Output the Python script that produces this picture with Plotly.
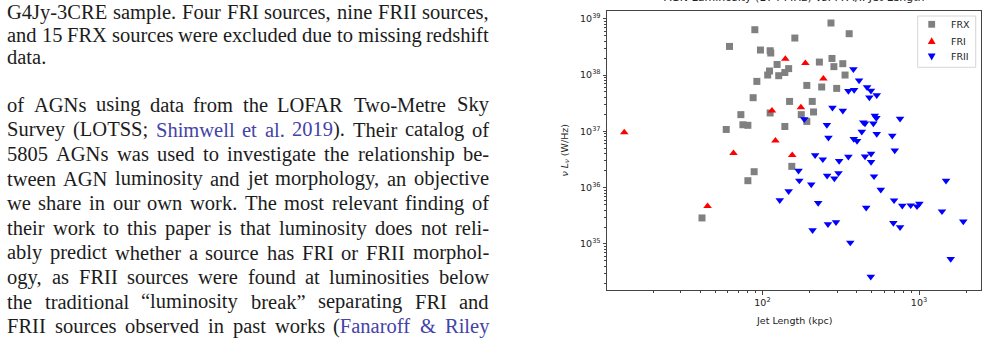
import plotly.graph_objects as go

# ---------------- data ----------------
frx_len = [274, 89.4, 358, 161, 61.6, 97.1, 112, 113, 278, 231, 326, 124, 286, 147, 111, 139,
           337, 108, 127, 92.1, 192, 239, 298, 87.2, 149, 208, 72.8, 112, 212, 177, 192, 75.0,
           80.7, 139, 58.7, 88.5, 80.7, 154, 41.1]
frx_lum = [8.39e38, 6.38e38, 5.42e38, 4.54e38, 3.22e38, 2.78e38, 2.70e38, 2.46e38, 1.97e38,
           1.70e38, 1.59e38, 1.54e38, 1.41e38, 1.30e38, 1.18e38, 1.11e38, 1.00e38, 1.00e38,
           9.73e37, 7.71e37, 6.54e37, 6.13e37, 5.79e37, 3.96e37, 3.40e37, 3.40e37, 1.98e37,
           2.12e37, 2.21e37, 1.98e37, 1.50e37, 1.31e37, 1.28e37, 1.22e37, 1.08e37, 1.92e36,
           1.33e36, 2.39e36, 2.90e35]

fri_len = [140, 188, 245, 115, 176, 121, 65.3, 155, 13.1, 44.6]
fri_lum = [1.93e38, 1.62e38, 8.61e37, 2.33e37, 2.66e37, 6.83e36, 4.10e36, 3.78e36, 9.59e36, 4.69e35]

frii_len = [381, 414, 466, 354, 385, 493, 482, 537, 280, 326,
            185, 258, 264, 441, 452, 522, 534, 511, 757, 431,
            383, 402, 537, 675, 700, 217, 243, 309, 354, 452,
            494, 494, 170, 172, 205, 259, 306, 288, 516, 147,
            129, 227, 460, 262, 295, 209, 364, 492, 570, 693,
            782, 885, 971, 1005, 1488, 1402, 1918, 686, 757, 1594]
frii_lum = [1.27e38, 8.0e37, 6.08e37, 5.21e37, 5.45e37, 5.27e37, 4.01e37, 4.39e37, 2.63e37, 2.33e37,
            1.64e37, 1.30e37, 7.72e36, 1.45e37, 1.38e37, 1.91e37, 1.73e37, 1.38e37, 1.68e37, 9.86e36,
            7.35e36, 6.74e36, 8.98e36, 8.38e36, 4.59e36, 3.78e36, 3.18e36, 2.98e36, 3.55e36, 3.59e36,
            4.01e36, 2.87e36, 2.00e36, 1.34e36, 1.14e36, 1.63e36, 1.82e36, 1.46e36, 1.59e36, 8.67e35,
            6.0e35, 5.37e35, 4.41e35, 2.25e35, 2.44e35, 1.76e35, 1.06e35, 2.63e34, 9.21e35, 5.95e35,
            4.79e35, 4.85e35, 4.66e35, 5.20e35, 1.33e36, 3.80e35, 2.52e35, 2.36e35, 1.99e35, 5.42e34]

series_names = ["FRX", "FRI", "FRII"]
series_colors = ["#808080", "#ff0000", "#0000ff"]

x_major = [1e2, 1e3]
x_major_text = ["10<sup>2</sup>", "10<sup>3</sup>"]
y_major = [1e35, 1e36, 1e37, 1e38, 1e39]
y_major_text = ["10<sup>35</sup>", "10<sup>36</sup>", "10<sup>37</sup>", "10<sup>38</sup>", "10<sup>39</sup>"]

LINK = "#4343a8"
TXT = "#1c1c1c"
# paragraph text of the page beside the chart: list of lines, each a list of (text, colour)
para1 = [
    [("G4Jy-3CRE sample. Four FRI sources, nine FRII sources,", TXT)],
    [("and 15 FRX sources were excluded due to missing redshift", TXT)],
    [("data.", TXT)],
]
para2 = [
    [("of AGNs using data from the LOFAR Two-Metre Sky", TXT)],
    [("Survey (LOTSS; ", TXT), ("Shimwell et al. 2019", LINK), ("). Their catalog of", TXT)],
    [("5805 AGNs was used to investigate the relationship be-", TXT)],
    [("tween AGN luminosity and jet morphology, an objective", TXT)],
    [("we share in our own work. The most relevant finding of", TXT)],
    [("their work to this paper is that luminosity does not reli-", TXT)],
    [("ably predict whether a source has FRI or FRII morphol-", TXT)],
    [("ogy, as FRII sources were found at luminosities below", TXT)],
    [("the traditional \u201cluminosity break\u201d separating FRI and", TXT)],
    [("FRII sources observed in past works (", TXT), ("Fanaroff & Riley", LINK)],
]

# Times-compatible advance widths (1/1000 em) used to justify the text column
TIMES = {" ": 250, ".": 250, ",": 250, "-": 333, "(": 333, ")": 333, ";": 278, ":": 278,
         "&": 778, "\u201c": 444, "\u201d": 444, "/": 278}
TIMES.update({d: 500 for d in "0123456789"})
TIMES.update(dict(zip("ABCDEFGHIJKLMNOPQRSTUVWXYZ",
                      [722, 667, 667, 722, 611, 556, 722, 722, 333, 389, 722, 611, 889, 722, 722,
                       556, 722, 667, 556, 611, 722, 722, 944, 722, 722, 611])))
TIMES.update(dict(zip("abcdefghijklmnopqrstuvwxyz",
                      [444, 500, 444, 500, 444, 333, 500, 500, 278, 278, 500, 278, 778, 500, 500,
                       500, 500, 333, 389, 278, 500, 500, 722, 500, 500, 444])))

# ---------------- figure geometry ----------------
W, H = 988, 348
ML, MR, MT, MB = 607, 7, 11, 58
PW, PH = W - ML - MR, H - MT - MB


def px_x(px):
    return (px - ML) / PW


def px_y(py):
    return (H - MB - py) / PH


fig = go.Figure()
fig.add_trace(go.Scatter(x=frx_len, y=frx_lum, mode="markers", name=series_names[0],
                         marker=dict(symbol="square", size=7, color=series_colors[0])))
fig.add_trace(go.Scatter(x=fri_len, y=fri_lum, mode="markers", name=series_names[1],
                         marker=dict(symbol="triangle-up", size=7.5, color=series_colors[1])))
fig.add_trace(go.Scatter(x=frii_len, y=frii_lum, mode="markers", name=series_names[2],
                         marker=dict(symbol="triangle-down", size=7.5, color=series_colors[2])))

x_minor = [m * 10 ** e for e in (1, 2, 3) for m in range(2, 10) if m * 10 ** e < 2400]
y_minor = [m * 10.0 ** e for e in (34, 35, 36, 37, 38) for m in range(2, 10)]
y_minor = [v for v in y_minor if v > 1.6e34]

axis_common = dict(showgrid=False, zeroline=False, showline=True, mirror=True,
                   linecolor="#444", linewidth=1, ticks="outside", ticklen=3.5,
                   tickcolor="#444", tickwidth=1,
                   tickfont=dict(family="DejaVu Sans", size=9.5, color="#222"))

fig.update_xaxes(type="log", range=[1.007, 3.396], tickmode="array",
                 tickvals=x_major, ticktext=x_major_text,
                 minor=dict(tickmode="array", tickvals=x_minor, ticks="outside",
                            ticklen=2, tickcolor="#444", tickwidth=0.8),
                 **axis_common)
fig.update_yaxes(type="log", range=[34.183, 39.137], tickmode="array",
                 tickvals=y_major, ticktext=y_major_text,
                 minor=dict(tickmode="array", tickvals=y_minor, ticks="outside",
                            ticklen=2, tickcolor="#444", tickwidth=0.8),
                 **axis_common)

annotations = []
shapes = []
label_font = dict(family="DejaVu Sans", size=9.5, color="#222")
annotations.append(dict(text="AGN Luminosity (174 MHz) vs. FR I/II Jet Length",
                        x=0.5, y=px_y(6), xref="paper", yref="paper",
                        xanchor="center", yanchor="bottom", showarrow=False,
                        font=dict(family="DejaVu Sans", size=11, color="#222")))
annotations.append(dict(text="Jet Length (kpc)", x=0.5, y=px_y(320), xref="paper", yref="paper",
                        xanchor="center", yanchor="middle", showarrow=False, font=label_font))
annotations.append(dict(text="<i>\u03bd L<sub>\u03bd</sub></i> (W/Hz)", x=px_x(565), y=0.5,
                        xref="paper", yref="paper", xanchor="center", yanchor="middle",
                        textangle=-90, showarrow=False, font=label_font))

# ---- legend box (matplotlib style) ----
shapes.append(dict(type="rect", xref="paper", yref="paper", layer="above",
                   x0=px_x(917.7), x1=px_x(975.7), y0=px_y(67.3), y1=px_y(16),
                   line=dict(color="#d6d6d6", width=1), fillcolor="rgba(255,255,255,0.85)"))
legend_paths = [
    "M-3.4,-3.4 L3.4,-3.4 L3.4,3.4 L-3.4,3.4 Z",
    "M-3.9,-3.1 L3.9,-3.1 L0,3.7 Z",
    "M-3.9,3.1 L3.9,3.1 L0,-3.7 Z",
]
legend_rows = [24.3, 41.0, 56.7]
for name, col, path, row in zip(series_names, series_colors, legend_paths, legend_rows):
    shapes.append(dict(type="path", xref="paper", yref="paper", layer="above",
                       xsizemode="pixel", ysizemode="pixel",
                       xanchor=px_x(931.7), yanchor=px_y(row), path=path,
                       fillcolor=col, line=dict(width=0)))
    annotations.append(dict(text=name, x=px_x(951.0), y=px_y(row), xref="paper", yref="paper",
                            xanchor="left", yanchor="middle", showarrow=False,
                            borderpad=0, borderwidth=0, font=label_font))

# ---- justified text column ----
FS = 20.5
LEFT, RIGHT = 7.0, 489.0


def width_of(s):
    return sum(TIMES.get(c, 500) for c in s) / 1000.0 * FS


def words_of(line):
    words, cur = [], []
    for text, col in line:
        parts = text.split(" ")
        for k, p in enumerate(parts):
            if k > 0:
                if cur:
                    words.append(cur)
                cur = []
            if p:
                cur.append((p, col))
    if cur:
        words.append(cur)
    return words


def place_line(line, ypx, justify=True):
    words = words_of(line)
    widths = [sum(width_of(t) for t, _ in w) for w in words]
    if justify and len(words) > 1:
        gap = (RIGHT - LEFT - sum(widths)) / (len(words) - 1)
    else:
        gap = width_of(" ")
    x = LEFT
    for w, wd in zip(words, widths):
        html = "".join(t.replace("&", "&amp;") if c == TXT else
                       "<span style='color:%s'>%s</span>" % (c, t.replace("&", "&amp;"))
                       for t, c in w)
        annotations.append(dict(text=html, x=px_x(x), y=px_y(ypx), xref="paper", yref="paper",
                                xanchor="left", yanchor="middle", showarrow=False,
                                borderpad=0, borderwidth=0,
                                font=dict(family="Liberation Serif", size=FS, color=TXT)))
        x += wd + gap


LS = 24.6
for i, line in enumerate(para1):
    place_line(line, 12.5 + 22.5 * i, justify=(i < len(para1) - 1))
for i, line in enumerate(para2):
    place_line(line, 105.0 + LS * i, justify=True)

fig.update_layout(
    width=W, height=H,
    margin=dict(l=ML, r=MR, t=MT, b=MB, autoexpand=False),
    paper_bgcolor="white", plot_bgcolor="white",
    showlegend=False,
    annotations=annotations,
    shapes=shapes,
)

fig.write_html("out.html")
